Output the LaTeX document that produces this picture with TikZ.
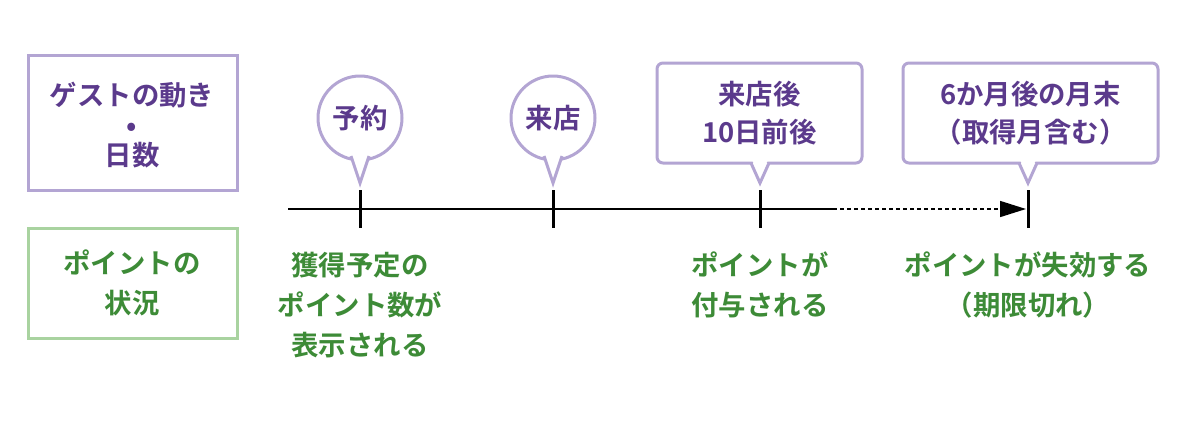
\documentclass[tikz,border=0pt]{standalone}
\usepackage{fontspec}
\setmainfont{Noto Sans CJK JP}[BoldFont={Noto Sans CJK JP Bold}]
\usetikzlibrary{arrows.meta}
\definecolor{pt}{HTML}{5B3A8C}
\definecolor{pb}{HTML}{B3A5D3}
\definecolor{gt}{HTML}{3D8B37}
\definecolor{gb}{HTML}{A9D3A0}
\begin{document}
\begin{tikzpicture}[x=1bp,y=-1bp,
  pbox/.style={draw=pb,line width=3bp},
  gbox/.style={draw=gb,line width=3bp},
  ptxt/.style={text=pt,font=\bfseries\fontsize{27.5}{38}\selectfont,align=center},
  gtxt/.style={text=gt,font=\bfseries\fontsize{27.5}{40}\selectfont,align=center},
  tick/.style={line width=3bp},
  call/.style={draw=pb,line width=3bp,fill=white,rounded corners=6bp}]
\useasboundingbox (0,0) rectangle (1200,432);
% left boxes
\draw[pbox] (28,55) rectangle (237,190);
\node[ptxt,font=\bfseries\fontsize{27.5}{30}\selectfont] (lg) at (132,125) {ゲストの動き\\•\\日数};
\draw[gbox] (28,228) rectangle (237,338);
\node[gtxt] (lp) at (132,283) {ポイントの\\状況};
% timeline
\coordinate (t0) at (288,209);
\coordinate (t3) at (833,209);
\coordinate (ta) at (1026,209);
\draw[line width=1.5bp] (t0) -- (t3);
\draw[line width=1.5bp,dash pattern=on 4bp off 3bp,-{Triangle[length=26bp,width=16bp]}] (t3) -- (ta);
\foreach \x in {360,553,760,1028} \draw[tick] (\x,190) -- (\x,228);
% circle callouts
\foreach \x/\t/\n in {360/予約/c1,553/来店/c2}{
  \draw[pb,line width=3bp,fill=white] (\x,118) circle (42);
  \draw[pb,line width=3bp,fill=white,line join=miter] (\x-9,156) -- (\x,183) -- (\x+9,156);
  \fill[white] (\x-7,152) -- (\x,175) -- (\x+7,152) -- cycle;
  \node[ptxt] (\n) at (\x,118) {\t};
}
% rectangle callouts
\foreach \a/\b/\x/\t/\n in {657/862/760/{来店後\\10日前後}/r1,903/1158/1028/{6か月後の月末\\（取得月含む）}/r2}{
  \draw[call] (\a,63) rectangle (\b,163);
  \draw[pb,line width=3bp,fill=white,line join=miter] (\x-9,163) -- (\x,183) -- (\x+9,163);
  \fill[white] (\x-7.5,161) -- (\x,177) -- (\x+7.5,161) -- cycle;
  \node[ptxt] (\n) at ({(\a+\b)/2},113) {\t};
}
% green texts
\node[gtxt] (g1) at (360,305) {獲得予定の\\ポイント数が\\表示される};
\node[gtxt] (g2) at (760,285) {ポイントが\\付与される};
\node[gtxt] (g3) at (1028,285) {ポイントが失効する\\（期限切れ）};
\end{tikzpicture}
\end{document}
